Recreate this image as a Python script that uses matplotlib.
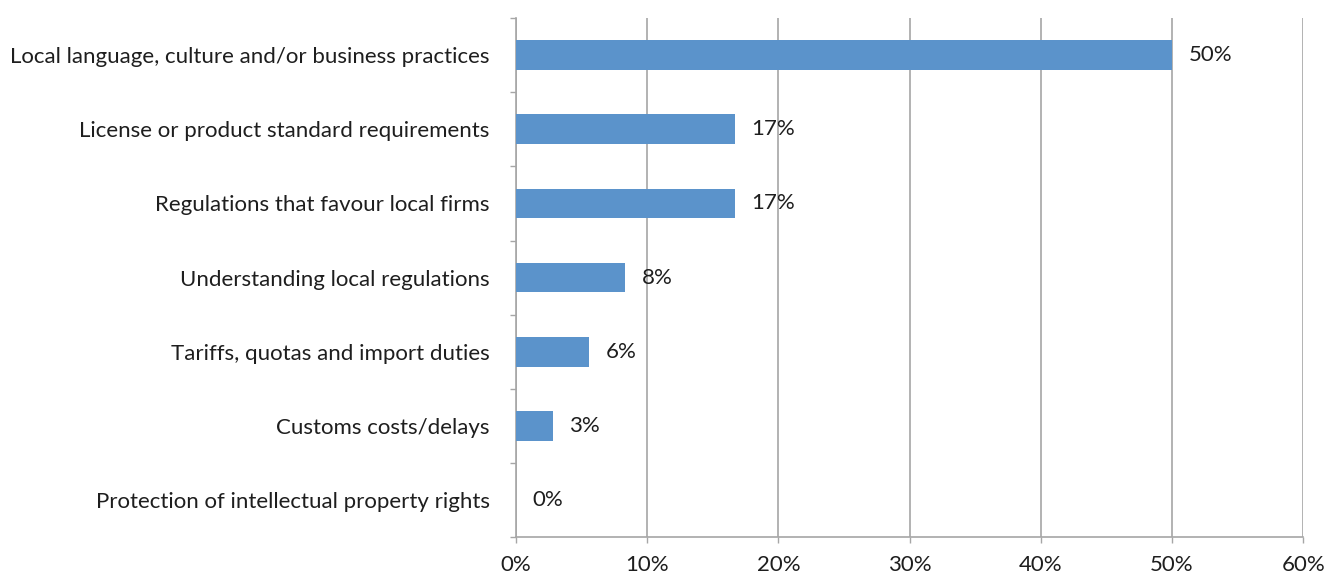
import numpy as np
import matplotlib.pyplot as plt
from matplotlib.ticker import FixedLocator

# Barriers to entering foreign markets (share of respondents, %)
barriers = [
    "Local language, culture and/or business practices",
    "License or product standard requirements",
    "Regulations that favour local firms",
    "Understanding local regulations",
    "Tariffs, quotas and import duties",
    "Customs costs/delays",
    "Protection of intellectual property rights",
]
shares = [50.0, 16.7, 16.7, 8.3, 5.6, 2.8, 0.0]
share_labels = ["50%", "17%", "17%", "8%", "6%", "3%", "0%"]

x_ticks = [0, 10, 20, 30, 40, 50, 60]
x_tick_labels = ["0%", "10%", "20%", "30%", "40%", "50%", "60%"]

plt.rcParams["font.family"] = ["Lato", "DejaVu Sans"]

bar_color = "#5b93cb"
text_color = "#1e1e1e"
grid_color = "#a6a6a6"

fig = plt.figure(figsize=(13.4, 5.82), dpi=100)
ax = fig.add_axes([0.385, 0.077, 0.5875, 0.892])

y = np.arange(len(barriers))
ax.barh(y, shares, height=0.4, color=bar_color, zorder=3)

for yi, val, lab in zip(y, shares, share_labels):
    ax.annotate(lab, (val, yi), xytext=(12, 0), textcoords="offset points",
                va="center", ha="left", fontsize=16, color=text_color)

ax.set_ylim(len(barriers) - 0.5, -0.5)
ax.set_xlim(0, 60)

ax.set_yticks(y)
ax.set_yticklabels(barriers, fontsize=16, color=text_color)
ax.yaxis.set_minor_locator(FixedLocator(np.arange(-0.5, len(barriers), 1.0)))
ax.tick_params(axis="y", which="major", length=0, pad=19)
ax.tick_params(axis="y", which="minor", length=4.5, width=1, color=grid_color)

ax.set_xticks(x_ticks)
ax.set_xticklabels(x_tick_labels, fontsize=16, color=text_color)
ax.tick_params(axis="x", length=4, width=1, color=grid_color, pad=9)

ax.grid(axis="x", color=grid_color, linewidth=1.2, zorder=0)

for side in ["top", "right"]:
    ax.spines[side].set_visible(False)
for side in ["left", "bottom"]:
    ax.spines[side].set_color(grid_color)
    ax.spines[side].set_linewidth(1.2)

fig.savefig("out.png", dpi=100)
